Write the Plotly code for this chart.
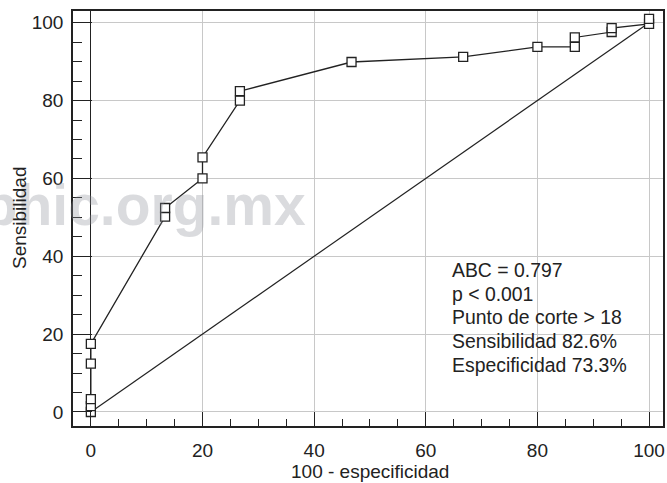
import plotly.graph_objects as go

# ROC curve points (100 - specificity, sensitivity)
fpr = [0, 0, 0, 0, 0, 13.3, 13.3, 20, 20, 26.7, 26.7, 46.7, 66.7, 80, 86.7, 86.7, 93.3, 93.3, 100, 100]
sens = [0, 1.5, 3.3, 12.4, 17.5, 50.2, 52.4, 60.0, 65.4, 80.0, 82.4, 89.9, 91.2, 93.8, 93.8, 96.2, 97.6, 98.6, 99.7, 101.0]

# reference (chance) line
diag_x = [0, 100]
diag_y = [0, 100]

x_ticks = [0, 20, 40, 60, 80, 100]
y_ticks = [0, 20, 40, 60, 80, 100]

stats_lines = [
    "ABC = 0.797",
    "p < 0.001",
    "Punto de corte > 18",
    "Sensibilidad 82.6%",
    "Especificidad 73.3%",
]

W_PX, H_PX = 667, 483
L, T, R, B = 73, 11, 4, 57
PW, PH = W_PX - L - R, H_PX - T - B


def px_x(p):
    return (p - L) / PW


def px_y(p):
    return 1 - (p - T) / PH


FONT = "Liberation Sans, Arial, Helvetica, sans-serif"
INK = "#222222"
GRID = "#c8c8c8"

fig = go.Figure()
fig.add_trace(go.Scatter(
    x=diag_x, y=diag_y, mode="lines",
    line=dict(color=INK, width=1.2), hoverinfo="skip", showlegend=False,
))
fig.add_trace(go.Scatter(
    x=fpr, y=sens, mode="lines+markers",
    line=dict(color=INK, width=1.3),
    marker=dict(symbol="square", size=9, color="white", line=dict(color=INK, width=1.3)),
    cliponaxis=False, showlegend=False,
))

axis_common = dict(
    showline=True, mirror=True, linecolor=INK, linewidth=1.5,
    showgrid=True, gridcolor=GRID, gridwidth=1.3,
    ticks="inside", tickcolor=INK, tickwidth=1.3,
    tickfont=dict(family=FONT, size=19, color=INK),
    tickmode="array", automargin=False,
)

fig.update_layout(
    width=W_PX, height=H_PX,
    margin=dict(l=L, r=R, t=T, b=B),
    paper_bgcolor="white", plot_bgcolor="white",
    xaxis=dict(
        **axis_common,
        range=[-3.2, 102.5], tickvals=x_ticks, ticktext=[str(v) for v in x_ticks],
        ticklen=14, ticklabelstandoff=6,
        zeroline=True, zerolinecolor=INK, zerolinewidth=1.3,
        minor=dict(dtick=5, tick0=0, ticks="inside", ticklen=7, tickcolor=INK, tickwidth=1.2, showgrid=False),
    ),
    yaxis=dict(
        **axis_common,
        range=[-3.6, 103], tickvals=y_ticks, ticktext=[str(v) for v in y_ticks],
        ticklen=19, ticklabelstandoff=4,
        zeroline=True, zerolinecolor=GRID, zerolinewidth=1.3,
        minor=dict(dtick=5, tick0=0, ticks="inside", ticklen=9, tickcolor=INK, tickwidth=1.2, showgrid=False),
    ),
    font=dict(family=FONT, color=INK),
)

# white box behind the statistics text
fig.add_shape(
    type="rect", xref="paper", yref="paper",
    x0=px_x(440), x1=px_x(637), y0=px_y(374), y1=px_y(260),
    fillcolor="white", line=dict(width=0), layer="between",
)

annotations = []
# watermark
annotations.append(dict(
    text="aphic.org.mx", xref="paper", yref="paper",
    x=px_x(308), y=px_y(205), xanchor="right", yanchor="middle",
    showarrow=False,
    font=dict(family=FONT, size=57, color="rgba(140,142,152,0.32)", weight=700),
))
# statistics lines
line_centers = [270, 293.7, 317.4, 341.1, 364.8]
for txt, cy in zip(stats_lines, line_centers):
    annotations.append(dict(
        text=txt, xref="paper", yref="paper",
        x=px_x(450), y=px_y(cy), xanchor="left", yanchor="middle",
        showarrow=False, font=dict(family=FONT, size=19.4, color=INK),
    ))
# axis titles
annotations.append(dict(
    text="100 - especificidad", xref="paper", yref="paper",
    x=px_x(369.5), y=px_y(471), xanchor="center", yanchor="middle",
    showarrow=False, font=dict(family=FONT, size=19, color=INK),
))
annotations.append(dict(
    text="Sensibilidad", xref="paper", yref="paper",
    x=px_x(19), y=px_y(218), xanchor="center", yanchor="middle", textangle=-90,
    showarrow=False, font=dict(family=FONT, size=19, color=INK),
))
fig.update_layout(annotations=annotations)

fig.write_html(
    "out.html",
    config={"displayModeBar": False},
    post_script="document.body.style.margin='0';document.body.style.padding='0';",
)
